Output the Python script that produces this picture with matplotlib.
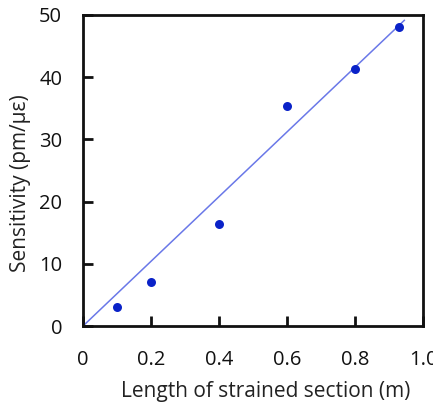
import matplotlib
matplotlib.use("Agg")
import matplotlib.pyplot as plt
import numpy as np

# Data
length_m = [0.1, 0.2, 0.4, 0.6, 0.8, 0.93]
sensitivity = [3.1, 7.1, 16.4, 35.4, 41.3, 48.0]
fit_x = [0.0, 0.945]
fit_slope = 52.0
xticks = [0, 0.2, 0.4, 0.6, 0.8, 1.0]
xticklabels = ["0", "0.2", "0.4", "0.6", "0.8", "1.0"]
yticks = [0, 10, 20, 30, 40, 50]
yticklabels = ["0", "10", "20", "30", "40", "50"]

plt.rcParams['font.family'] = ['Open Sans', 'DejaVu Sans']

fig = plt.figure(figsize=(4.33, 4.03), dpi=100)
ax = fig.add_axes([83/433, 1 - 326/403, 340/433, 311/403])

fx = np.array(fit_x)
ax.plot(fx, fit_slope * fx, color='#6a78e8', lw=1.1, zorder=2)
ax.scatter(length_m, sensitivity, s=42, color='#0a22c8', zorder=3, linewidths=0)

ax.set_xlim(0, 1.0)
ax.set_ylim(0, 50)
ax.set_xticks(xticks)
ax.set_xticklabels(xticklabels)
ax.set_yticks(yticks)
ax.set_yticklabels(yticklabels)
ax.tick_params(axis='both', direction='in', length=7, width=2, labelsize=14.5, colors='#111111')
ax.tick_params(axis='x', pad=17)
ax.tick_params(axis='y', pad=15)
for sp in ax.spines.values():
    sp.set_linewidth(2)
    sp.set_color('#111111')

ax.set_xlabel("Length of strained section (m)", fontsize=15, color='#222222', va='center')
ax.set_ylabel("Sensitivity (pm/\u03bc\u03b5)", fontsize=15, color='#222222', va='center')
ax.xaxis.set_label_coords(0.538, -0.212)
ax.yaxis.set_label_coords(-0.185, 0.46)

fig.savefig("out.png", dpi=100)
